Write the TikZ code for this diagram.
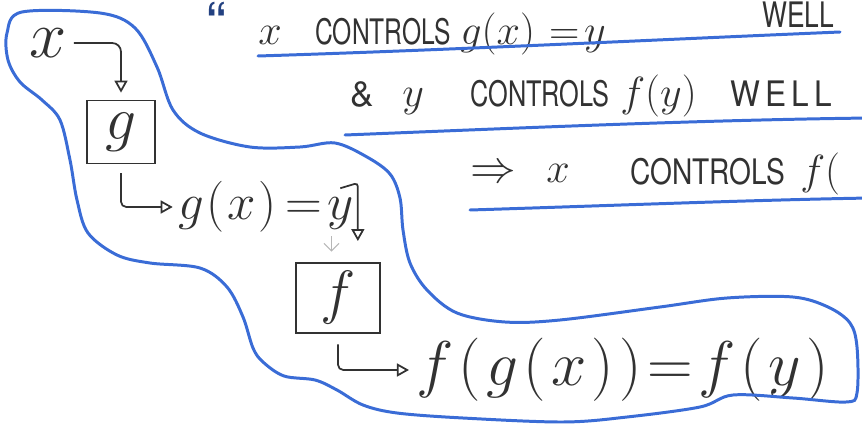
\RequirePackage{fix-cm}
\documentclass[tikz,border=0pt]{standalone}
\usepackage{amsmath}
\usepackage{graphicx}
\usepackage{fontspec}
\setmainfont{TeX Gyre Heros}
\usepackage{tikz}
\usetikzlibrary{arrows.meta, positioning}

\definecolor{marker}{RGB}{58,108,214}
\definecolor{pencil}{RGB}{50,50,50}

\begin{document}
\begin{tikzpicture}[x=0.02cm, y=-0.02cm,
    fbox/.style={rectangle, draw=pencil, line width=1pt, inner sep=0pt, text=pencil},
    term/.style={inner sep=0pt, text=pencil},
    note/.style={inner sep=0pt, text=pencil, anchor=base west, font=\fontsize{24}{24}\selectfont},
    caps/.style={inner sep=0pt, text=pencil, anchor=base west, font=\fontsize{20}{20}\selectfont},
    link/.style={draw=pencil, line width=1pt, -{Triangle[open, length=2.4mm, width=2.6mm]}},
    ghost/.style={draw=pencil!35, line width=0.6pt, -{Straight Barb[length=1.5mm]}},
    blob/.style={draw=marker, line width=1.7pt},
    uline/.style={draw=marker, line width=1.7pt, line cap=round}
]
    \useasboundingbox (0,0) rectangle (862,426);
    \clip (0,0) rectangle (862,426);

    % Chain of functions
    \node[term, font=\fontsize{38}{38}\selectfont] (X) at (48,43) {$x$};
    \node[fbox, minimum width=1.36cm, minimum height=1.26cm, font=\fontsize{35}{35}\selectfont] (G) at (121,132) {$g$};
    \node[term, anchor=west, font=\fontsize{29}{29}\selectfont] (GY) at (178,207) {$g\mkern1mu(\mkern1mu x\mkern1mu)\mkern3mu{=}\mkern2mu y$};
    \node[fbox, minimum width=1.68cm, minimum height=1.4cm, font=\fontsize{34}{34}\selectfont] (F) at (338,298) {$f$};
    \node[term, anchor=west, font=\fontsize{36}{36}\selectfont] (FG) at (416,370)
        {$f\mkern1.5mu(\mkern1.5mu g\mkern1.5mu(\mkern1.5mu x\mkern1.5mu)\mkern1.5mu)\mkern1.5mu{=}\mkern1.5mu f\mkern1.5mu(\mkern1.5mu y\mkern1.5mu)$};

    % Notes
    \node[term, text=marker!60!black, anchor=base, text height=0.72em, text depth=0pt, font=\fontsize{34}{34}\selectfont] (QM) at (216,44) {\textquotedblleft};
    \node[note] (N1x) at (258,44) {$x$};
    \node[caps] (N1c) at (315,44) {\scalebox{0.7}[1]{CONTROLS}};
    \node[note] (N1g) at (460,44) {$g(x)\mkern6mu{=}\mkern2mu y$};
    \node[caps] (N1w) at (762,28) {\scalebox{0.75}[1]{WELL}};

    \node[caps] (N2a) at (350,106) {\&};
    \node[note] (N2y) at (402,106) {$y$};
    \node[caps] (N2c) at (470,106) {\scalebox{0.72}[1]{CONTROLS}};
    \node[note] (N2f) at (620,106) {$f(y)$};
    \node[caps] (N2w) at (730,106) {\scalebox{0.9}[1]{W\,E\,L\,L}};

    \node[note, font=\fontsize{26}{26}\selectfont] (N3i) at (470,182) {$\Rightarrow$};
    \node[note] (N3x) at (546,182) {$x$};
    \node[caps] (N3c) at (630,184) {\scalebox{0.8}[1]{CONTROLS}};
    \node[note] (N3f) at (800,184) {$f($};

    % Connections
    \draw[link, rounded corners=5pt, shorten <=4pt, shorten >=4pt] (X.east) -| (G.north);
    \draw[link, rounded corners=3pt, shorten <=5pt, shorten >=3pt] (G.south) |- (GY.west);
    \draw[link, rounded corners=2pt, shorten >=12pt] ([xshift=-8pt, yshift=-4pt]GY.north east) -- ([xshift=2pt, yshift=-1pt]GY.north east) -- ([xshift=2pt]GY.north east |- F.north);
    \draw[ghost, shorten <=2pt, shorten >=6pt] ([xshift=-13pt]GY.south east) -- ([xshift=-13pt]GY.south east |- F.north);
    \draw[link, rounded corners=3pt, shorten <=6pt, shorten >=4pt] (F.south) |- (FG.west);

    % Underlines
    \draw[uline] (258,56) .. controls (450,50) and (650,40) .. (840,32);
    \draw[uline] (345,135) .. controls (520,128) and (700,120) .. (870,118);
    \draw[uline] (470,210) .. controls (600,206) and (750,200) .. (870,198);

    % Outline round the chain
    \draw[blob] plot[smooth cycle, tension=0.55] coordinates {
        (7,33) (22,12) (100,13) (135,28) (157,67) (173,110) (200,133) (250,147)
        (300,147) (335,143) (367,157) (390,174) (400,198) (403,230) (410,263)
        (427,290) (457,313) (505,322) (560,320) (660,307) (727,298) (793,297)
        (828,307) (850,323) (857,347) (857,393) (846,402) (793,398) (733,395)
        (700,407) (627,417) (563,422) (463,418) (397,413) (363,405) (337,390)
        (315,380) (284,376) (263,362) (253,348) (243,317) (227,287) (200,268)
        (150,263) (117,255) (88,233) (77,200) (70,160) (60,120) (42,100) (20,82) (8,60)};
\end{tikzpicture}
\end{document}
